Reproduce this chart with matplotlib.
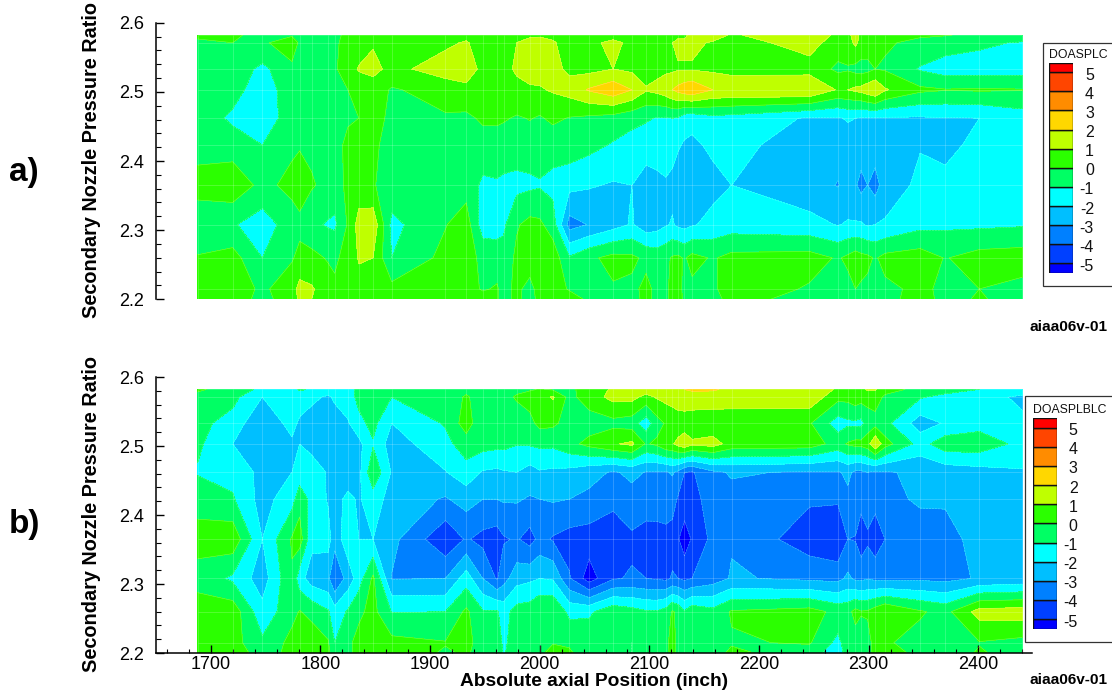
import numpy as np
import matplotlib
matplotlib.use("Agg")
import matplotlib.pyplot as plt
from matplotlib.patches import Rectangle

plt.rcParams['font.family'] = ['Liberation Sans', 'DejaVu Sans']

FIG_W, FIG_H = 1112, 694

# axial stations and pressure ratios of the measurement grid
x_stations = [1688, 1720, 1747, 1774, 1781, 1792, 1807, 1813, 1825, 1835, 1848, 1865,
              1914, 1933, 1948, 1961, 1967, 1979, 1991, 2000, 2012, 2027, 2045, 2067,
              2084, 2097, 2107, 2115, 2121, 2126, 2132, 2139, 2158, 2175, 2246, 2272,
              2281, 2288, 2293, 2299, 2306, 2315, 2347, 2370, 2401, 2440]
pressure_ratios = [2.2, 2.215, 2.26, 2.308, 2.365, 2.423, 2.462, 2.503, 2.533, 2.571, 2.582]

# DOASPLC, one list per pressure ratio
a_220 = [.5, .5, -.3, .5, 1.2, 1.0, .6, .4, .5, .5, .5, .5, .5, .5, .4, .1, -.3, .2, -.4, .3, .5, .5, -.2,
         -.3, -.4, .3, -.3, -.3, .4, .4, -.2, -.3, -.3, .3, -.3, -.4, -.4, -.5, -.4, -.4, -.4, -.3, .4, -.3, .1, -.4]
a_2215 = [.6, .6, -.2, .6, 1.3, 1.1, .5, .1, .5, .6, .6, .3, .5, .4, -.1, .1, -.3, .2, -.3, .4, .5, -.1, -.3,
          -.1, -.2, .2, -.2, -.2, .3, .3, -.2, -.2, -.2, .6, -.1, -.4, -.3, 0, -.1, -.2, -.2, -.2, .2, -.2, 0, -.3]
a_226 = [.05, .4, -1.0, -.1, .3, .3, -.1, -.1, .2, 1.1, 1.0, -1.0, .3, .5, -.3, -.5, -.6, .2, .5, .6, .6, -.9, -.2,
         .3, .2, -.2, -.4, -.2, .1, .2, -.1, .3, -.1, .3, .4, -.1, .2, .5, .3, .2, -.1, .3, .5, -.05, .4, .5]
a_2308 = [-.5, -.9, -1.5, -.5, -.3, -.8, -1.1, -1.2, .1, 1.4, 1.7, -1.3, -.05, .5, -1.5, -1.4, -1.2, -.1, .3, .2, -.5, -3.4, -2.95,
          -2.4, -1.9, -2.6, -2.4, -2.1, -1.9, -2.2, -2.3, -2.1, -1.7, -1.5, -1.7, -2.05, -1.9, -1.9, -1.9, -2.1, -2.0, -1.9, -1.3, -1.2, -1.2, -1.1]
a_2365 = [.3, .7, -.3, .3, .6, .1, -.3, -.4, .2, .4, .05, -.3, -.4, -.4, -1.2, -1.1, -1.2, -1.3, -1.2, -1.1, -1.3, -1.7, -1.9,
          -2.1, -2.0, -2.5, -2.3, -2.1, -2.3, -2.5, -2.6, -2.7, -2.3, -2.0, -2.6, -3.05, -2.7, -2.9, -3.3, -3.0, -3.4, -2.5, -1.8, -1.7, -1.5, -1.4]
a_2423 = [-.3, -.5, -1.0, -.2, -.1, -.2, -.3, -.3, .2, .5, .2, -.4, -.3, -.2, -.4, -.5, -.5, -.5, -.5, -.5, -.6, -.4, -.7,
          -1.1, -1.4, -1.5, -1.5, -1.6, -1.6, -1.9, -2.1, -2.2, -1.8, -1.7, -2.5, -2.6, -2.5, -2.5, -2.5, -2.5, -2.5, -2.4, -2.05, -2.3, -1.7, -1.3]
a_2462 = [-.4, -1.2, -1.6, -.5, -.4, -.4, -.3, -.3, -.1, 0, .5, -.3, -.1, -.2, .15, .2, .1, -.1, .05, -.1, .2, -.05, -.2,
          -.4, -.7, -.9, -1.05, -1.1, -1.0, -1.1, -1.6, -1.7, -1.3, -1.4, -2.1, -2.1, -1.9, -2.0, -2.05, -2.05, -2.05, -2.1, -2.1, -2.05, -2.0, -1.5]
a_2503 = [-.4, -.6, -1.6, -.4, -.3, -.3, -.3, -.2, 0, .3, .5, -.1, .4, .7, .3, .5, .6, .8, .9, .9, 1.1, 1.4, 2.1,
          2.7, 2.0, 1.1, 1.3, 1.6, 2.0, 2.3, 2.6, 2.8, 2.0, 1.9, 2.0, .9, 1.0, 1.2, 1.3, 1.6, 1.9, 1.1, .2, .05, .1, .05]
a_2533 = [-.3, -.5, -1.2, -.4, -.3, -.3, -.2, -.1, .4, 1.1, 1.3, .7, 1.5, 1.6, .7, .8, .8, 1.1, 1.3, 1.4, 1.3, .8, .7,
          1.0, .8, .5, .7, .8, .8, .9, .9, .9, .8, .6, .6, -.2, -.1, -.3, -.4, -.3, 0, -.1, -1.1, -1.5, -1.5, -1.5]
a_2571 = [-.2, 0, -.3, 1.0, -.3, -.3, -.3, -.1, .2, .4, .9, .4, .8, 1.1, .5, .4, .3, 1.0, 1.2, 1.3, 1.1, .6, .8,
          1.2, .8, .5, .6, .7, 1.0, 1.2, 1.2, 1.2, .9, .6, 1.4, .5, .6, 1.2, .7, .5, .3, .1, -.2, -.5, -.8, -1.1]
a_2582 = [.2, .1, -.2, -.2, -.2, -.2, -.1, -.2, .2, .4, .5, .4, .6, .7, .6, .6, .5, .8, .9, .9, .8, .5, .6,
          .7, .6, .5, .5, .7, .9, .8, .8, 1.3, 1.4, .9, 1.6, .8, .8, 1.3, .8, .8, .7, .5, .1, .05, -.2, -.3]

# DOASPLBLC, one list per pressure ratio
b_220 = [.5, .6, -.5, .3, .5, .6, .2, -.5, -.3, .4, .6, .5, -.1, .1, -.3, -.5, -1.1, -.4, -.4, -.2, .3, .1, -.4,
         -.4, -1.0, -.4, -.4, -.3, .3, -.2, -.4, -.4, -.4, .2, -.5, -1.6, -.5, -.5, -.5, -.4, .3, .5, -.3, -.5, .1, -.4]
b_2215 = [.5, .4, -.8, .3, .8, .6, .1, -1.0, -.2, .3, .8, .3, .05, .2, -.3, -.4, -1.2, -.5, -.5, -.2, -.05, -.1, -.3,
          -.3, -1.0, -.5, -.4, -.2, .3, -.2, -.3, -.3, -.3, -.1, .1, -1.3, -.4, -.4, -.3, -.3, .3, .1, -.3, -.3, -.05, -.3]
b_226 = [.4, .6, -1.7, -.3, .05, -.3, -.9, -1.6, -.9, -.2, .3, -1.05, -1.0, .2, -.9, -.9, -1.4, -.6, -.5, 0, 0, -1.3, -1.2,
         -.3, -.6, -.9, -.9, -.6, .1, -.2, -.9, -.3, -.7, .1, .4, -.3, -.3, .3, .05, .1, .5, 1.0, .1, -.3, 1.4, 1.5]
b_2308 = [-.3, -1.2, -2.5, -.1, -1.6, -2.5, -2.8, -4.0, -2.6, -1.5, .2, -3.05, -3.0, -1.5, -3.0, -4.1, -3.4, -2.4, -2.2, -2.0, -2.1, -3.9, -5.5,
          -4.1, -3.9, -4.0, -4.1, -4.2, -3.9, -4.0, -4.2, -4.0, -3.5, -2.9, -3.2, -3.3, -2.8, -3.2, -3.2, -3.1, -3.2, -3.3, -3.2, -3.3, -2.9, -2.7]
b_2365 = [.3, .7, -2.0, .1, .5, -1.7, -1.6, -2.6, -1.4, -2.0, -2.0, -2.7, -4.8, -3.9, -4.3, -4.5, -4.1, -3.9, -4.4, -3.7, -4.1, -4.4, -4.5,
          -4.7, -4.2, -4.5, -4.4, -4.3, -4.4, -4.9, -5.6, -4.9, -3.7, -3.1, -4.6, -4.95, -4.0, -4.05, -4.7, -4.2, -4.7, -4.0, -3.7, -3.3, -2.7, -2.5]
b_2423 = [-.3, -.9, -2.4, -1.4, -.4, -1.3, -2.1, -2.3, -1.8, -2.1, -1.5, -2.4, -3.1, -2.6, -3.0, -3.0, -2.9, -2.9, -3.1, -3.0, -2.9, -3.0, -3.2,
          -3.7, -3.3, -3.4, -3.5, -3.5, -3.6, -4.1, -4.3, -4.3, -3.6, -3.3, -3.85, -3.85, -3.2, -3.5, -3.6, -3.4, -3.6, -3.4, -2.8, -2.9, -2.7, -2.4]
b_2462 = [-1.1, -1.3, -2.3, -2.0, -1.6, -1.4, -2.1, -2.5, -2.5, -2.3, -.2, -2.1, -2.05, -1.4, -2.1, -2.2, -2.1, -2.0, -2.4, -2.1, -2.2, -2.3, -2.7,
          -3.1, -2.8, -3.05, -3.1, -3.1, -2.9, -3.2, -4.0, -4.1, -3.2, -2.9, -3.1, -3.1, -2.8, -3.2, -3.2, -3.0, -3.2, -3.1, -2.8, -2.6, -2.4, -2.1]
b_2503 = [-.8, -2.0, -2.9, -2.2, -2.0, -2.4, -2.6, -2.6, -2.6, -2.3, -1.1, -2.5, -1.3, -.5, -.6, -.7, -.7, -.95, -.9, -.8, -.8, -.3, .3,
          .9, 1.2, -.1, .2, .8, .9, 1.3, 1.7, 1.2, 1.4, .6, .5, -.4, .1, .3, .3, .6, 1.9, .4, -1.4, -.4, -.4, -1.3]
b_2533 = [-.7, -1.4, -2.9, -1.6, -2.2, -2.6, -2.5, -2.6, -2.1, -1.3, -.7, -2.0, -.9, .5, -.8, -.7, -.7, -.5, -.3, .3, .2, -.4, -.5,
          -.3, -.5, -1.6, -.4, .1, .2, .3, .4, .3, .3, .4, .1, -1.5, -1.2, -1.2, -1.3, -.6, -.4, -.7, -2.5, -1.9, -1.4, -1.7]
b_2571 = [-.2, -.7, -2.0, -1.3, -1.4, -1.7, -2.2, -1.8, -1.5, -.7, -.3, -1.0, -.5, .1, -.4, -.3, -.3, .1, .4, .6, 1.1, -.3, .5,
          1.3, 1.3, .7, 1.1, 1.3, 1.5, 1.7, 1.7, 1.7, 1.6, 1.5, 1.7, .3, .3, .6, .4, .4, .5, -.2, -.9, -1.3, -1.4, -2.3]
b_2582 = [.1, -.3, -1.3, -1.2, -.9, -1.1, -1.3, -1.3, -1.3, -.8, -.5, -.6, -.4, -.2, -.2, -.2, -.2, -.2, -.1, .05, -.1, -.1, .2,
          1.2, 1.5, 1.5, 1.7, 1.9, 1.9, 2.0, 2.0, 2.1, 2.1, 1.8, 2.0, .8, .6, .8, .8, 1.1, 1.1, .4, -.3, -.6, -1.0, -1.1]

doasplc = [a_220, a_2215, a_226, a_2308, a_2365, a_2423, a_2462, a_2503, a_2533, a_2571, a_2582]
doasplblc = [b_220, b_2215, b_226, b_2308, b_2365, b_2423, b_2462, b_2503, b_2533, b_2571, b_2582]

levels = [-5, -4, -3, -2, -1, 0, 1, 2, 3, 4, 5]
band_colors = ['#0000ff', '#0040ff', '#0080ff', '#00bfff', '#00ffff', '#00ff64',
               '#2bff00', '#bfff00', '#ffd700', '#ff8c00', '#ff4500', '#ff0000']
y_ticks = [2.2, 2.3, 2.4, 2.5, 2.6]
x_ticks = [1700, 1800, 1900, 2000, 2100, 2200, 2300, 2400]


def px_axes(fig, left, top, right, bottom):
    return fig.add_axes([left / FIG_W, 1 - bottom / FIG_H, (right - left) / FIG_W, (bottom - top) / FIG_H])


def draw_panel(fig, top, bottom, values, show_x):
    ax = px_axes(fig, 156, top, 1032, bottom)
    # the legend box of the lower panel sits inside this axes area
    ax.patch.set_visible(False)
    ax.contourf(x_stations, pressure_ratios, np.array(values), levels=levels, colors=band_colors, extend='both')
    ax.contour(x_stations, pressure_ratios, np.array(values), levels=levels, colors='white', linewidths=0.4, alpha=0.35)
    # faint mesh lines that show through the plot
    ax.vlines(x_stations, pressure_ratios[0], pressure_ratios[-1], colors='white', linewidths=0.6, alpha=0.22)
    ax.hlines(pressure_ratios, x_stations[0], x_stations[-1], colors='white', linewidths=0.6, alpha=0.22)
    ax.set_xlim(1650, 2449)
    ax.set_ylim(2.2, 2.6)
    for side in ['top', 'right']:
        ax.spines[side].set_visible(False)
    ax.spines['left'].set_linewidth(1.1)
    ax.set_yticks(y_ticks)
    ax.set_yticks(np.arange(2.2, 2.6, 0.02), minor=True)
    ax.tick_params(axis='y', which='major', direction='in', length=6, width=1, labelsize=13, pad=8.5)
    ax.tick_params(axis='y', which='minor', direction='in', length=3.5, width=0.8)
    ax.set_yticklabels(['2.2', '2.3', '2.4', '2.5', '2.6'])
    if show_x:
        ax.spines['bottom'].set_linewidth(1.1)
        ax.set_xticks(x_ticks)
        ax.set_xticks(np.arange(1660, 2441, 20), minor=True)
        ax.tick_params(axis='x', which='major', direction='in', length=5.5, width=1, labelsize=13, pad=2.5)
        ax.tick_params(axis='x', which='minor', direction='in', length=3, width=0.8)
    else:
        ax.spines['bottom'].set_visible(False)
        ax.set_xticks([])
    return ax


def draw_legend(fig, box_left, box_top, box_bottom, bar_left, bar_top, bar_bottom, title):
    fig.add_artist(Rectangle((box_left / FIG_W, 1 - box_bottom / FIG_H), (FIG_W + 5 - box_left) / FIG_W,
                             (box_bottom - box_top) / FIG_H, transform=fig.transFigure,
                             facecolor='white', edgecolor='#333333', linewidth=0.9, zorder=-1))
    cax = px_axes(fig, bar_left, bar_top, bar_left + 24, bar_bottom)
    edges = [-5.5] + levels + [5.5]
    for i, color in enumerate(band_colors):
        cax.bar(0, edges[i + 1] - edges[i], bottom=edges[i], width=1, color=color, edgecolor='#111111', linewidth=1.0)
    cax.set_xlim(-0.5, 0.5)
    cax.set_ylim(-5.5, 5.5)
    cax.axis('off')
    right = (bar_left + 45) / FIG_W
    unit = (bar_bottom - bar_top) / 11.0
    for lev in levels:
        ypx = bar_bottom - (lev + 5.5) * unit + 3
        fig.text(right, 1 - ypx / FIG_H, str(lev), ha='right', va='center', fontsize=11.5, color='#111111')
    fig.text(bar_left / FIG_W, 1 - (bar_top - 8) / FIG_H, title, ha='left', va='center', fontsize=8.8, color='#111111')


fig = plt.figure(figsize=(FIG_W / 100, FIG_H / 100), dpi=100)

draw_panel(fig, 22.7, 299.3, doasplc, False)
ax_b = draw_panel(fig, 377, 653, doasplblc, True)

fig.text(92 / FIG_W, 1 - 160 / FIG_H, 'Secondary Nozzle Pressure Ratio', rotation=90, ha='center', va='center',
         fontsize=14.3, fontweight='bold')
fig.text(92 / FIG_W, 1 - 514 / FIG_H, 'Secondary Nozzle Pressure Ratio', rotation=90, ha='center', va='center',
         fontsize=14.3, fontweight='bold')
fig.text(594 / FIG_W, 1 - 681 / FIG_H, 'Absolute axial Position (inch)', ha='center', va='center',
         fontsize=13.8, fontweight='bold')

fig.text(24 / FIG_W, 1 - 172 / FIG_H, 'a)', ha='center', va='center', fontsize=24, fontweight='bold')
fig.text(24 / FIG_W, 1 - 525 / FIG_H, 'b)', ha='center', va='center', fontsize=24, fontweight='bold')

fig.text(1068 / FIG_W, 1 - 327 / FIG_H, 'aiaa06v-01', ha='center', va='center', fontsize=11.1, fontweight='bold')
fig.text(1068 / FIG_W, 1 - 680 / FIG_H, 'aiaa06v-01', ha='center', va='center', fontsize=11.1, fontweight='bold')

draw_legend(fig, 1043, 43, 286, 1049, 62.7, 273, 'DOASPLC')
draw_legend(fig, 1025, 396, 642, 1032.5, 418, 628.7, 'DOASPLBLC')

fig.savefig('out.png', dpi=100)
plt.close(fig)
